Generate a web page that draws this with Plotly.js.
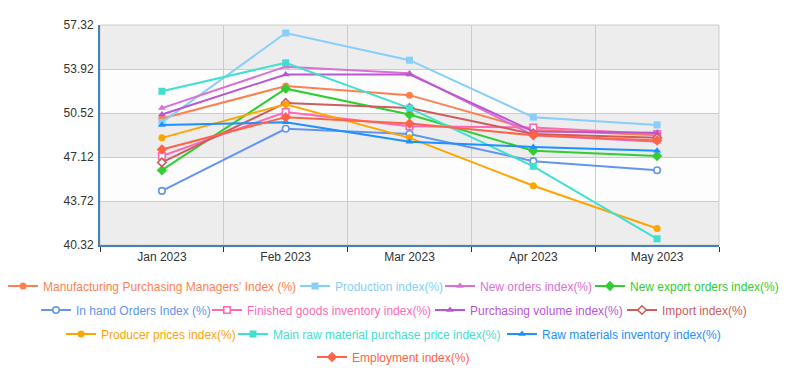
<!DOCTYPE html>
<html><head><meta charset="utf-8">
<script src="https://cdn.plot.ly/plotly-3.0.1.min.js"></script>
<style>html,body{margin:0;padding:0;background:#fff}#chart{width:799px;height:377px}</style>
</head><body><div id="chart"></div>
<script>
var months = ["Jan 2023","Feb 2023","Mar 2023","Apr 2023","May 2023"];
var yTicks = [40.32, 43.72, 47.12, 50.52, 53.92, 57.32];

var pmi        = [50.1, 52.6, 51.9, 49.2, 48.8];
var production = [49.8, 56.7, 54.6, 50.2, 49.6];
var newOrders  = [50.9, 54.1, 53.6, 48.8, 48.3];
var newExport  = [46.1, 52.4, 50.4, 47.6, 47.2];
var inHand     = [44.5, 49.3, 48.9, 46.8, 46.1];
var finished   = [47.2, 50.6, 49.5, 49.4, 48.9];
var purchasing = [50.4, 53.5, 53.5, 49.1, 49.0];
var importIdx  = [46.7, 51.3, 50.9, 48.9, 48.6];
var producer   = [48.6, 51.2, 48.6, 44.9, 41.6];
var rawPrice   = [52.2, 54.4, 50.9, 46.4, 40.8];
var rawInv     = [49.6, 49.8, 48.3, 47.9, 47.6];
var employment = [47.7, 50.2, 49.7, 48.8, 48.4];

var seriesNames = [
  "Manufacturing Purchasing Managers' Index (%)",
  "Production index(%)",
  "New orders index(%)",
  "New export orders index(%)",
  "In hand Orders Index (%)",
  "Finished goods inventory index(%)",
  "Purchasing volume index(%)",
  "Import index(%)",
  "Producer prices index(%)",
  "Main raw material purchase price index(%)",
  "Raw materials inventory index(%)",
  "Employment index(%)"
];
var seriesData = [pmi, production, newOrders, newExport, inHand, finished, purchasing, importIdx, producer, rawPrice, rawInv, employment];
var colors = ['#ff7f50','#87cefa','#da70d6','#32cd32','#6495ed','#ff69b4','#ba55d3','#cd5c5c','#ffa500','#40e0d0','#1e90ff','#ff6347'];
var symbols = ['circle','square','triangle-up','diamond','circle','square','triangle-up','diamond','circle','square','triangle-up','diamond'];
var hollow = [false,false,false,false,true,true,false,true,false,false,false,false];

// legend entry layout (pixel position of each entry's text start and row centre)
var legendTextX = [43, 335, 480, 630, 76, 247, 470, 662, 101, 273, 542, 352];
var legendRowY  = [286, 286, 286, 286, 310, 310, 310, 310, 334, 334, 334, 357];

var W = 799, H = 377;

var traces = seriesData.map(function(d, i){
  return {
    x: months, y: d, type: 'scatter', mode: 'lines+markers',
    name: '<span style="color:' + colors[i] + '">' + seriesNames[i] + '</span>',
    legend: i === 0 ? 'legend' : 'legend' + (i + 1),
    line: {color: colors[i], width: 2},
    marker: {
      symbol: symbols[i],
      size: hollow[i] ? 6.5 : (symbols[i] === 'diamond' ? 8 : 7),
      color: hollow[i] ? '#ffffff' : colors[i],
      line: {color: colors[i], width: hollow[i] ? 1.6 : 0}
    },
    hoverinfo: 'x+y+name'
  };
});

var shapes = [];
for (var i = 0; i < yTicks.length - 1; i++) {
  shapes.push({type:'rect', xref:'paper', yref:'y', x0:0, x1:1, y0:yTicks[i], y1:yTicks[i+1],
    fillcolor: (i % 2 === 0) ? '#ededed' : '#fdfdfd', line:{width:0}, layer:'below'});
}
shapes.push({type:'rect', xref:'paper', yref:'paper', x0:0, x1:1, y0:0, y1:1,
  line:{color:'#cccccc', width:1}, fillcolor:'rgba(0,0,0,0)', layer:'below'});

var layout = {
  width: W, height: H,
  margin: {l:100, r:80, t:25, b:132},
  paper_bgcolor: '#ffffff', plot_bgcolor: '#ffffff',
  font: {family:'Liberation Sans, Arial, sans-serif', size:12, color:'#333333'},
  showlegend: true,
  xaxis: {
    type:'category', range:[-0.5, 4.5], tickson:'boundaries',
    showgrid:true, gridcolor:'#cccccc', gridwidth:1,
    showline:true, linecolor:'#4682b4', linewidth:2,
    ticks:'outside', ticklen:5, tickcolor:'#333333', tickwidth:1,
    tickfont:{size:12, color:'#333333'}, zeroline:false, fixedrange:true
  },
  yaxis: {
    range:[yTicks[0], yTicks[yTicks.length-1]],
    tickmode:'array', tickvals:yTicks, ticktext:yTicks.map(function(v){return v.toFixed(2);}),
    showgrid:true, gridcolor:'#cccccc', gridwidth:1,
    showline:true, linecolor:'#4682b4', linewidth:2,
    ticks:'outside', ticklen:2, tickcolor:'rgba(0,0,0,0)',
    tickfont:{size:12, color:'#333333'}, zeroline:false, fixedrange:true
  },
  shapes: shapes
};

for (var k = 0; k < seriesNames.length; k++) {
  var key = k === 0 ? 'legend' : 'legend' + (k + 1);
  layout[key] = {
    orientation:'h', xref:'container', yref:'container',
    x: (legendTextX[k] - 40) / W, xanchor:'left',
    y: 1 - legendRowY[k] / H, yanchor:'middle',
    font:{family:'Liberation Sans, Arial, sans-serif', size:12},
    itemwidth:30, bgcolor:'rgba(0,0,0,0)', borderwidth:0, itemclick:false
  };
}

Plotly.newPlot('chart', traces, layout, {displayModeBar:false, staticPlot:true});
</script></body></html>
